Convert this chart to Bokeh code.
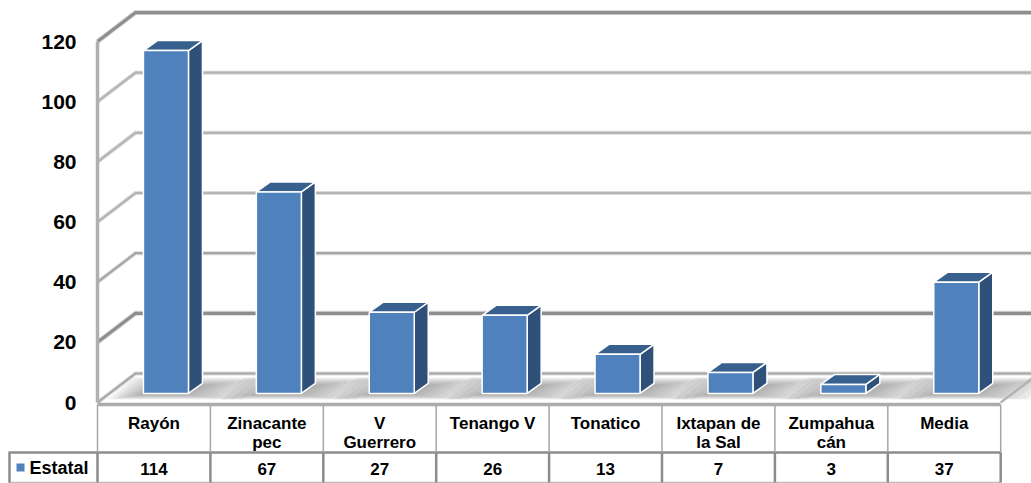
from bokeh.plotting import figure
from bokeh.models import FixedTicker, Range1d
from bokeh.core.properties import value
from bokeh.embed import file_html
from bokeh.resources import INLINE

categories = ["Rayón", "Zinacante\npec", "V\nGuerrero", "Tenango V", "Tonatico", "Ixtapan de\nla Sal", "Zumpahua\ncán", "Media"]
series_name = "Estatal"
estatal = [114, 67, 27, 26, 13, 7, 3, 37]
y_ticks = [0, 20, 40, 60, 80, 100, 120]

W, H = 1031, 483
CELL, X0, Y0, K = 112.9, 97.0, 402.0, 3.008


def ux(px):
    return (px - X0) / CELL


def uy(py):
    return (Y0 - py) / K


FONT = "Liberation Sans"
FRONT, SIDE, TOP = "#4F81BD", "#2F5078", "#38608F"
n = len(categories)
DX, DY = 38 / CELL, 29 / K          # depth of the chart box
BX, BY = 12 / CELL, 3.0             # bar's front plane, set into the floor
BW = 45 / CELL                      # bar width
SX, SY = 14 / CELL, 10 / K          # bar's own depth

p = figure(width=W, height=H, output_backend="svg", toolbar_location=None,
           x_range=Range1d(ux(0), ux(1031)), y_range=Range1d(uy(483), uy(0)),
           min_border=0, outline_line_color=None, background_fill_color="white",
           border_fill_color="white")
p.grid.visible = False

# floor shadows around each bar
for i in range(n):
    xl = i + (1 - BW) / 2 + BX
    xr = xl + BW
    for s in range(9):
        f = s / 8
        grow_l = 0.30 * (1 - f) + 0.02
        grow_r = 0.55 * (1 - f) + 0.05
        b = uy(399 - 5 * f)
        t = uy(377 + 8 * f)
        slant = 24 / CELL
        p.patch([xl - grow_l, xr + grow_r - 0.12, xr + grow_r + slant - 0.12, xl - grow_l + slant],
                [b, b, t, t], fill_color="#606060", fill_alpha=0.08, line_color=None)

# back wall grid, side wall and floor
for v in y_ticks:
    dark = v in (20, 120)
    mid = v in (40, 0)
    col = "#8E8E8E" if dark else ("#A6A6A6" if mid else "#B4B4B4")
    xs = [0, DX, n + DX]
    ys = [v, v + DY, v + DY]
    p.line(xs, ys, line_color="#DADADA", line_width=5 if dark else 4, line_join="miter")
    p.line(xs, ys, line_color=col, line_width=3.2 if dark else 2.2, line_join="miter")
p.line([n, n + DX], [0, DY], line_color="#B4B4B4", line_width=2.5)

# bars
for i, v in enumerate(estatal):
    xl = i + (1 - BW) / 2 + BX
    xr = xl + BW
    b, t = BY, BY + v
    p.patch([xr, xr + SX, xr + SX, xr], [b, b + SY, t + SY, t], fill_color=SIDE, line_color="white", line_width=1.5)
    p.patch([xl, xr, xr + SX, xl + SX], [t, t, t + SY, t + SY], fill_color=TOP, line_color="white", line_width=1.5)
    p.patch([xl, xr, xr, xl], [b, b, t, t], fill_color=FRONT, line_color="white", line_width=1.5)

# data table rules
row1, bottom = uy(452), uy(482)
p.line([ux(8), n], [row1, row1], line_color="#8C8C8C", line_width=2.5)
p.line([ux(8), n], [bottom, bottom], line_color="#BDBDBD", line_width=1.5)
p.line([ux(9), ux(9)], [row1, bottom], line_color="#8C8C8C", line_width=2.5)
for i in range(n + 1):
    p.line([i, i], [uy(404), row1], line_color="#A6A6A6", line_width=1.5)
    p.line([i, i], [row1, bottom], line_color="#8C8C8C", line_width=2.5)

# data table values and legend key
p.text([i + 0.5 for i in range(n)], [uy(468)] * n, text=[str(v) for v in estatal],
       text_font=value(FONT), text_font_style="bold", text_font_size="17px",
       text_align="center", text_baseline="middle", text_color="black")
p.rect([ux(20)], [uy(467)], width=8 / CELL, height=8 / K, fill_color=FRONT, line_color=None)
p.text([ux(29)], [uy(467)], text=[series_name], text_font=value(FONT), text_font_style="bold",
       text_font_size="18px", text_align="left", text_baseline="middle", text_color="black")

# axes live inside the frame so the table can run past them
ya = p.yaxis[0]
ya.fixed_location = 0
ya.bounds = (0, 120)
ya.ticker = FixedTicker(ticks=y_ticks)
ya.major_tick_line_color = None
ya.minor_tick_line_color = None
ya.axis_line_color = "#B0B0B0"
ya.axis_line_width = 3.5
ya.major_label_standoff = 15
ya.major_label_text_font = FONT
ya.major_label_text_font_style = "bold"
ya.major_label_text_font_size = "21px"
ya.major_label_text_color = "black"

xa = p.xaxis[0]
xa.fixed_location = uy(404)
xa.bounds = (0, n)
xa.ticker = FixedTicker(ticks=[i + 0.5 for i in range(n)])
xa.major_label_overrides = {i + 0.5: c for i, c in enumerate(categories)}
xa.major_tick_line_color = None
xa.minor_tick_line_color = None
xa.axis_line_color = "#ABABAB"
xa.axis_line_width = 3.5
xa.major_label_standoff = 3
xa.major_label_text_font = FONT
xa.major_label_text_font_style = "bold"
xa.major_label_text_font_size = "17px"
xa.major_label_text_color = "black"
xa.major_label_text_line_height = 1.0

open("out.html", "w").write(file_html(p, INLINE))
